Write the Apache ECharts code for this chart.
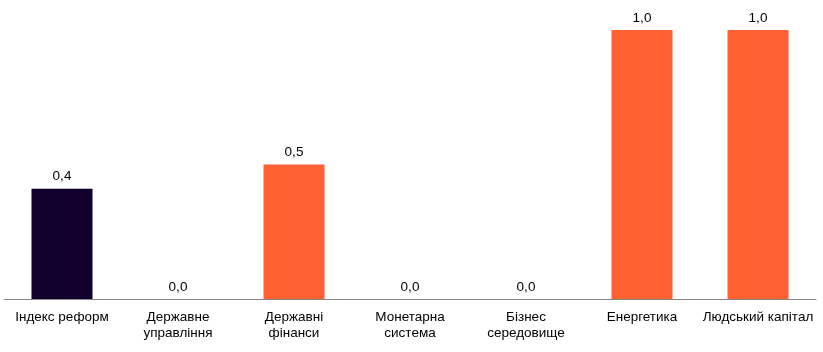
<!DOCTYPE html>
<html><head><meta charset="utf-8">
<script src="https://cdn.jsdelivr.net/npm/echarts@6/dist/echarts.min.js"></script>
<style>html,body{margin:0;padding:0;background:#fff}#c{width:823px;height:352px}</style>
</head><body><div id="c"></div>
<script>
const categories = ['Індекс реформ', 'Державне\nуправління', 'Державні\nфінанси', 'Монетарна\nсистема', 'Бізнес\nсередовище', 'Енергетика', 'Людський капітал'];
const values = [0.41, 0.0, 0.5, 0.0, 0.0, 1.0, 1.0];
const colors = ['#12002D', '#FF6133', '#FF6133', '#FF6133', '#FF6133', '#FF6133', '#FF6133'];

const chart = echarts.init(document.getElementById('c'));
chart.setOption({
  animation: false,
  grid: { left: 4, right: 7, top: 30, bottom: 53, containLabel: false },
  xAxis: {
    type: 'category', data: categories,
    axisLine: { lineStyle: { color: '#888888', width: 1 } },
    axisTick: { show: false },
    axisLabel: { color: '#000', fontFamily: 'Liberation Sans, Arial', fontSize: 13.5, lineHeight: 15.5, margin: 11, interval: 0 }
  },
  yAxis: { type: 'value', min: 0, max: 1, show: false, splitLine: { show: false } },
  series: [{
    type: 'bar', barWidth: '52.6%',
    data: values.map((v, i) => ({ value: v, itemStyle: { color: colors[i] } })),
    label: {
      show: true, position: 'top', distance: 5, color: '#000',
      fontFamily: 'Liberation Sans, Arial', fontSize: 13.5,
      formatter: p => p.value.toFixed(1).replace('.', ',')
    }
  }]
});
</script></body></html>
